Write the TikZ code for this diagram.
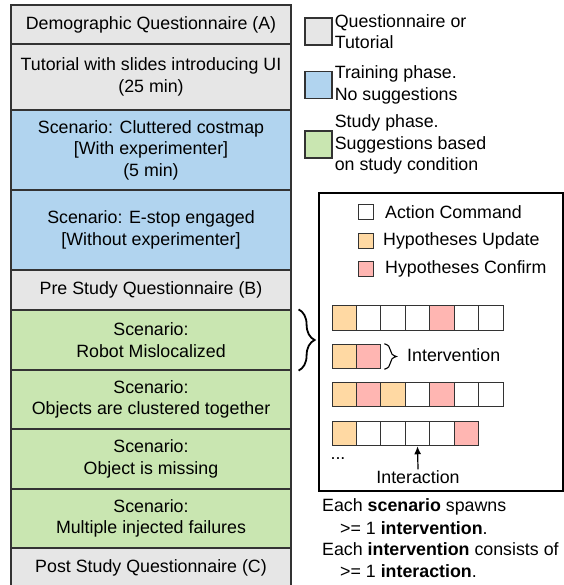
\documentclass[tikz,border=0pt]{standalone}
\usepackage{fontspec}
\setmainfont{Liberation Sans}
\usetikzlibrary{decorations.pathreplacing,arrows.meta}
\definecolor{qgrey}{HTML}{E6E6E6}
\definecolor{tblue}{HTML}{B1D4EF}
\definecolor{sgreen}{HTML}{C9E6B1}
\definecolor{hupd}{HTML}{FFD9A3}
\definecolor{hconf}{HTML}{FFB6B2}
\definecolor{edgec}{HTML}{333333}
\begin{document}
\begin{tikzpicture}[x=1pt,y=-1pt,
  font=\fontsize{17.8}{21.5}\selectfont,
  stage/.style={draw=edgec, line width=1.2pt, minimum width=280pt, inner sep=0pt, align=center},
  legbox/.style={draw=edgec, line width=1.2pt, minimum width=27pt, minimum height=27pt, inner sep=0pt},
  legtext/.style={anchor=west, align=left, inner sep=2pt},
  keybox/.style={draw=edgec, line width=1pt, minimum width=15pt, minimum height=15pt, inner sep=0pt},
  cell/.style={draw=edgec, line width=1pt, minimum width=24.43pt, minimum height=24.5pt, inner sep=0pt},
  note/.style={anchor=west, inner sep=0pt}]
\useasboundingbox (0,0) rectangle (563,585);

% stages
\node[stage, fill=qgrey,  minimum height=39pt] (s1) at (151,24.5) {Demographic Questionnaire (A)};
\node[stage, fill=qgrey,  minimum height=66pt] (s2) at (151,77) {Tutorial with slides introducing UI\\(25 min)};
\node[stage, fill=tblue,  minimum height=80pt] (s3) at (151,150) {Scenario: Cluttered costmap\\{}[With experimenter]\\(5 min)};
\node[stage, fill=tblue,  minimum height=80pt] (s4) at (151,230) {Scenario: E-stop engaged\\{}[Without experimenter]};
\node[stage, fill=qgrey,  minimum height=40pt] (s5) at (151,290) {Pre Study Questionnaire (B)};
\node[stage, fill=sgreen, minimum height=60pt] (s6) at (151,340) {Scenario:\\Robot Mislocalized};
\node[stage, fill=sgreen, minimum height=59pt] (s7) at (151,399.5) {Scenario:\\Objects are clustered together};
\node[stage, fill=sgreen, minimum height=60pt] (s8) at (151,459) {Scenario:\\Object is missing};
\node[stage, fill=sgreen, minimum height=59pt] (s9) at (151,518.5) {Scenario:\\Multiple injected failures};
\node[stage, fill=qgrey,  minimum height=40pt] (s10) at (151,568) {Post Study Questionnaire (C)};

% legend
\node[legbox, fill=qgrey]  (lg1) at (318.5,31.5) {};
\node[legtext] (lt1) at (lg1.east) {Questionnaire or\\Tutorial};
\node[legbox, fill=tblue]  (lg2) at (318.5,85) {};
\node[legtext] (lt2) at (lg2.east) {Training phase.\\No suggestions};
\node[legbox, fill=sgreen] (lg3) at (318.5,144.5) {};
\node[legtext] (lt3) at (lg3.east) {Study phase.\\Suggestions based\\on study condition};

% panel
\node[draw=black, line width=2pt, minimum width=244pt, minimum height=298pt, inner sep=0pt, anchor=north west] (panel) at (318,192) {};

\node[keybox, fill=white] (k1) at (366,212) {};
\node[legtext, inner sep=0pt, xshift=11pt] (kt1) at (k1.east) {Action Command};
\node[keybox, fill=hupd] (k2) at (366,240.5) {};
\node[legtext, inner sep=0pt, xshift=9pt] (kt2) at (k2.east) {Hypotheses Update};
\node[keybox, fill=hconf] (k3) at (366,269) {};
\node[legtext, inner sep=0pt, xshift=11pt] (kt3) at (k3.east) {Hypotheses Confirm};

% sequences
\foreach \c [count=\i] in {hupd,white,white,white,hconf,white,white}
  \node[cell, fill=\c] (a\i) at ({332+(\i-0.5)*24.43},318) {};
\foreach \c [count=\i] in {hupd,hconf}
  \node[cell, fill=\c] (b\i) at ({332+(\i-0.5)*24.43},356.5) {};
\foreach \c [count=\i] in {hupd,hconf,hupd,white,hconf,white,white}
  \node[cell, fill=\c] (c\i) at ({332+(\i-0.5)*24.43},394.5) {};
\foreach \c [count=\i] in {hupd,white,white,white,white,hconf}
  \node[cell, fill=\c] (d\i) at ({332+(\i-0.5)*24.43},433.5) {};

% braces
\draw[decorate, decoration={brace, amplitude=16pt}, line width=1.8pt]
  ([xshift=7pt]s6.north east) -- ([xshift=7pt]s6.south east);
\draw[decorate, decoration={brace, amplitude=12pt}, line width=1.1pt]
  ([xshift=3pt]b2.north east) -- ([xshift=3pt]b2.south east);
\node[note] (intv) at (407,355) {Intervention};

% interaction
\node[inner sep=1pt] (dots) at (338,459) {...};
\node[inner sep=1pt] (inter) at (418,477) {Interaction};
\draw[-{Latex[length=8pt,width=7pt]}, line width=1.2pt] (inter.north) -- (d4.south);

% notes
\node[note] (n1) at (322,507) {Each \textbf{scenario} spawns};
\node[note] (n2) at (340,528) {>= 1 \textbf{intervention}.};
\node[note] (n3) at (322,549.5) {Each \textbf{intervention} consists of};
\node[note] (n4) at (340,571) {>= 1 \textbf{interaction}.};
\end{tikzpicture}
\end{document}
